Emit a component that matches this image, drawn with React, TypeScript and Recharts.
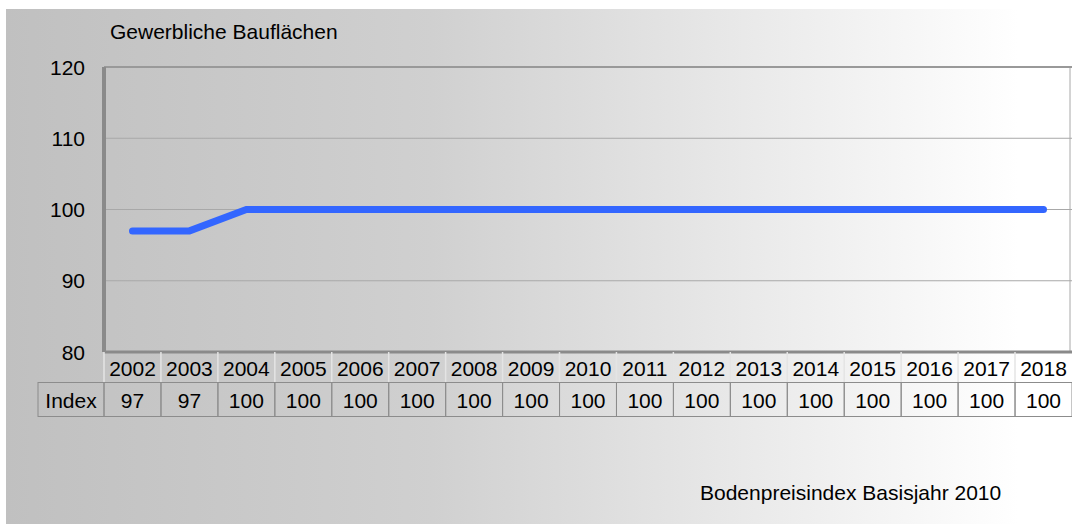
import React from 'react';
import { LineChart, Line, XAxis, YAxis, CartesianGrid, ReferenceLine } from 'recharts';

const years = ['2002', '2003', '2004', '2005', '2006', '2007', '2008', '2009', '2010', '2011', '2012', '2013', '2014', '2015', '2016', '2017', '2018'];
const indexValues = [97, 97, 100, 100, 100, 100, 100, 100, 100, 100, 100, 100, 100, 100, 100, 100, 100];
const yTicks = [80, 90, 100, 110, 120];

const title = 'Gewerbliche Bauflächen';
const footer = 'Bodenpreisindex Basisjahr 2010';
const rowLabel = 'Index';

const data = years.map((year, i) => ({ year, index: indexValues[i] }));

const FONT = '"Liberation Sans", Arial, sans-serif';
const COL = 57;

const YTick = (props: any) => {
  const { y, payload } = props;
  return (
    <text x={85} y={y + 7.5} textAnchor="end" fontSize={21} fontFamily={FONT} fill="#000">
      {payload.value}
    </text>
  );
};

// x axis ticks draw the data table under the plot
const TableTick = (props: any) => {
  const { x, y, payload, index } = props;
  const top = y;
  const left = x - COL / 2;
  return (
    <g>
      <line x1={left} x2={left} y1={top} y2={top + 30} stroke="#e4e4e4" strokeWidth={1.5} />
      <text x={x} y={top + 23.5} textAnchor="middle" fontSize={21} fontFamily={FONT} fill="#000">
        {payload.value}
      </text>
      <rect x={left} y={top + 30.5} width={COL} height={34} fill="none" stroke="#8c8c8c" />
      <text x={x} y={top + 55.5} textAnchor="middle" fontSize={21} fontFamily={FONT} fill="#000">
        {indexValues[index]}
      </text>
      {index === 0 && (
        <g>
          <rect x={left - 66} y={top + 30.5} width={66} height={34} fill="none" stroke="#8c8c8c" />
          <text x={left - 33} y={top + 55.5} textAnchor="middle" fontSize={21} fontFamily={FONT} fill="#000">
            {rowLabel}
          </text>
        </g>
      )}
    </g>
  );
};

export default function App() {
  return (
    <div style={{ position: 'absolute', left: 0, top: 0, width: 1072, height: 524, background: '#fff' }}>
      <div
        style={{
          position: 'absolute',
          left: 6,
          top: 9,
          width: 1066,
          height: 515,
          background: 'linear-gradient(to right, #c0c0c0 0%, #d0d0d0 40%, #eeeeee 75%, #ffffff 95%)',
        }}
      />
      <div style={{ position: 'absolute', left: 0, top: 0 }}>
        <LineChart width={1072} height={524} data={data} margin={{ top: 67, right: 0, bottom: 102, left: 0 }}>
          <CartesianGrid stroke="#a8a8a8" vertical={true} verticalPoints={[1070]} />
          <ReferenceLine y={120} stroke="#999" strokeWidth={2} />
          <XAxis
            dataKey="year"
            padding={{ left: COL / 2, right: COL / 2 }}
            axisLine={{ stroke: '#8a8a8a', strokeWidth: 3 }}
            tickLine={false}
            tickSize={0}
            tickMargin={0}
            height={70}
            interval={0}
            tick={<TableTick />}
          />
          <YAxis
            domain={[80, 120]}
            ticks={yTicks}
            width={104}
            axisLine={{ stroke: '#8a8a8a', strokeWidth: 4 }}
            tickLine={false}
            tick={<YTick />}
          />
          <Line
            type="linear"
            dataKey="index"
            stroke="#3366ff"
            strokeWidth={7}
            strokeLinecap="round"
            dot={false}
            activeDot={false}
            isAnimationActive={false}
          />
        </LineChart>
      </div>
      <svg width={1072} height={524} style={{ position: 'absolute', left: 0, top: 0, pointerEvents: 'none' }}>
        <text x={110} y={39} fontSize={21} fontFamily={FONT} fill="#000">{title}</text>
        <text x={700} y={500} fontSize={21} fontFamily={FONT} fill="#000">{footer}</text>
      </svg>
    </div>
  );
}
